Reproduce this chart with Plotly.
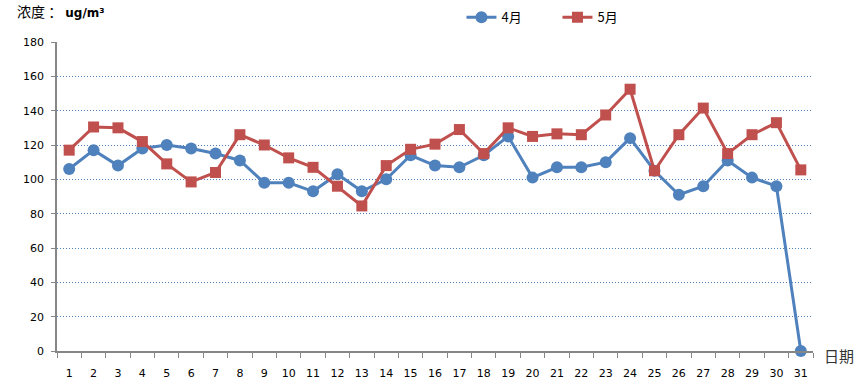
import plotly.graph_objects as go

days = [str(i) for i in range(1, 32)]
april = [106, 117, 108, 118, 120, 118, 115, 111, 98, 98, 93, 103, 93, 100, 114, 108, 107, 114, 125,
         101, 107, 107, 110, 124, 105, 91, 96, 111, 101, 96, 0]
may = [117, 130.5, 130, 122, 109, 98.5, 104, 126, 120, 112.5, 107, 96, 84.5, 108, 117.5, 120.5, 129,
       115, 130, 125, 126.5, 126, 137.5, 152.5, 105, 126, 141.5, 115, 126, 133, 105.5]
y_ticks = [0, 20, 40, 60, 80, 100, 120, 140, 160, 180]

blue = "#4f81bd"
red = "#c0504d"
font_num = "DejaVu Sans, Verdana, sans-serif"
font_cjk = "Noto Sans CJK SC, sans-serif"

fig = go.Figure()
fig.add_trace(go.Scatter(x=days, y=april, name="4月", mode="lines+markers",
                         line=dict(color=blue, width=3), cliponaxis=False,
                         marker=dict(symbol="circle", size=12, color=blue)))
fig.add_trace(go.Scatter(x=days, y=may, name="5月", mode="lines+markers",
                         line=dict(color=red, width=3), cliponaxis=False,
                         marker=dict(symbol="square", size=11, color=red)))

fig.update_layout(
    width=866, height=388,
    margin=dict(l=57, r=53, t=42, b=37, autoexpand=False),
    paper_bgcolor="white", plot_bgcolor="white",
    showlegend=True,
    legend=dict(orientation="h", x=0.535, xanchor="left", y=1.08, yanchor="middle",
                font=dict(family=font_cjk, size=13, color="black"),
                itemwidth=30, entrywidth=51, bgcolor="rgba(0,0,0,0)"),
    xaxis=dict(type="category", tickson="boundaries", ticks="outside", ticklen=5,
               tickcolor="#868686", showline=True, linecolor="#868686", linewidth=1.5,
               showgrid=False, range=[-0.5, 30.5], automargin=False,
               tickfont=dict(family=font_num, size=11, color="black"),
               ticklabelstandoff=11),
    yaxis=dict(range=[0, 180], tickvals=y_ticks, ticks="outside", ticklen=4,
               tickcolor="#868686", showline=True, linecolor="#868686", linewidth=1.5,
               showgrid=True, gridcolor=blue, griddash="1px,2px", gridwidth=1,
               zeroline=False, automargin=False,
               tickfont=dict(family=font_num, size=11, color="black"),
               ticklabelstandoff=5),
    annotations=[
        dict(text="浓度 ： <span style='font-family:DejaVu Sans;font-size:12px'><b>ug/m³</b></span>",
             xref="paper", yref="paper", x=-0.055, y=1.06,
             xanchor="left", yanchor="bottom", showarrow=False,
             font=dict(family=font_cjk, size=14, color="black")),
        dict(text="日期", xref="paper", yref="paper", x=1.012, y=0.0,
             xanchor="left", yanchor="top", showarrow=False, yshift=8,
             font=dict(family=font_cjk, size=15, color="#333333")),
    ],
)

fig.write_html("out.html", config={"displayModeBar": False},
               post_script="document.body.style.margin='0';document.body.style.padding='0';")
